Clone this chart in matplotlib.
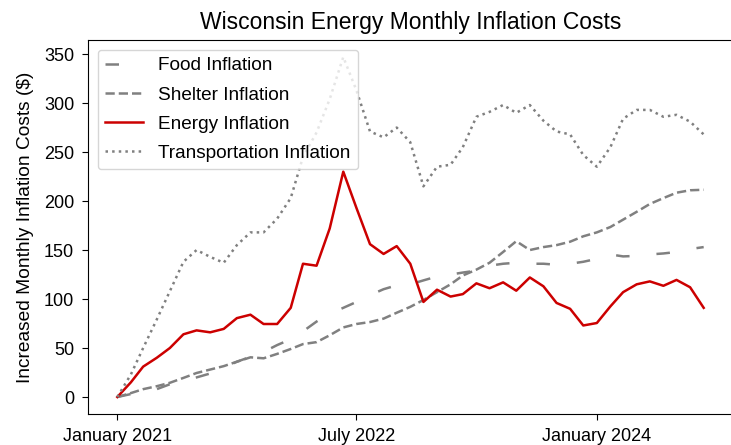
import matplotlib
matplotlib.use("Agg")
import matplotlib.pyplot as plt
import matplotlib.dates as mdates
import pandas as pd

# Monthly data, January 2021 .. September 2024 (45 months)
months = pd.date_range("2021-01-01", periods=45, freq="MS")

food = [0, 3, 5, 8, 13, 17, 20, 24, 30, 36, 41, 46, 53, 59, 67,
        77, 85, 91, 97, 104, 110, 114, 115, 119, 123, 125, 127, 129, 134, 136,
        137, 136, 136, 135, 136, 138, 141, 145.5, 143.5, 144, 145.5, 146.5, 148, 151, 153]

shelter = [0, 4, 8, 11, 14.5, 19.5, 24.5, 28, 31.5, 36, 40.5, 39.5, 44, 49, 54,
           56, 63, 71, 74.5, 76.5, 80, 86, 92, 99, 107, 115, 124, 130, 137, 148,
           159, 150, 153, 155, 158.5, 164, 168, 173.5, 181, 189, 197, 203, 208.5, 211, 211.5]

energy = [0, 15, 31, 40, 50, 64, 68, 66, 69.5, 80.5, 84, 74.5, 74.5, 91, 136,
          134, 172, 230, 193, 156, 146, 154, 136, 97, 109.5, 102.5, 105, 116, 111, 117,
          108.5, 122, 113, 96, 90, 73, 75.5, 92.5, 107, 115, 118, 113.5, 119.5, 112, 91]

transport = [0, 23, 50, 79, 108, 138, 150, 143, 137, 155, 168, 168, 182, 203, 245,
             270, 304, 347, 313, 271, 265, 275, 260, 215, 235, 237, 255, 286, 291, 298,
             290, 298, 282, 271, 268, 247, 235, 255, 284, 293, 293, 286, 288, 281, 268]

tick_dates = pd.to_datetime(["2021-01-01", "2022-07-01", "2024-01-01"])

plt.rcParams["font.family"] = ["Liberation Sans", "DejaVu Sans"]

fig = plt.figure(figsize=(7.31, 4.45), dpi=100)
ax = fig.add_axes([88 / 731, 31 / 445, 645 / 731, 374 / 445])

GRAY = "gray"
LW = 1.8
ax.plot(months, food, color=GRAY, lw=LW, linestyle=(0, (5.4, 10.8)), label="Food Inflation")
ax.plot(months, shelter, color=GRAY, lw=LW, linestyle="--", label="Shelter Inflation")
ax.plot(months, energy, color="#cc0000", lw=LW, label="Energy Inflation")
ax.plot(months, transport, color=GRAY, lw=LW, linestyle=":", label="Transportation Inflation")

ax.set_xticks(tick_dates)
ax.xaxis.set_major_formatter(mdates.DateFormatter("%B %Y"))
ax.set_yticks(range(0, 351, 50))
ax.tick_params(labelsize=13, length=4.5, pad=5.5)

ax.set_ylabel("Increased Monthly Inflation Costs ($)", fontsize=13.8, labelpad=7)
ax.set_title("Wisconsin Energy Monthly Inflation Costs", fontsize=16.5, pad=8)
ax.legend(loc="upper left", fontsize=13.7, labelspacing=0.62)

fig.savefig("out.png", dpi=100)
